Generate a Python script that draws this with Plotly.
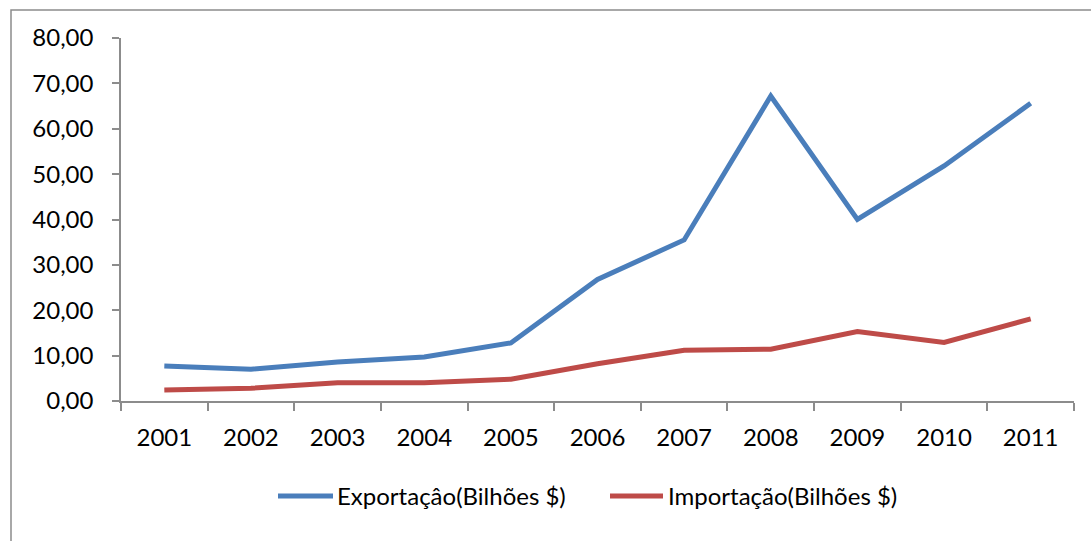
import plotly.graph_objects as go

anos = ["2001", "2002", "2003", "2004", "2005", "2006", "2007", "2008", "2009", "2010", "2011"]
exportacao = [7.7, 7.0, 8.6, 9.7, 12.8, 26.8, 35.5, 67.2, 40.0, 51.8, 65.6]
importacao = [2.4, 2.8, 4.0, 4.0, 4.8, 8.2, 11.2, 11.4, 15.3, 12.9, 18.1]

nomes = ["Exportaçâo(Bilhões $)", "Importação(Bilhões $)"]
cores = ["#4A7EBB", "#BE4B48"]

FONT = "Lato"
AXIS_GRAY = "#8c8c8c"

# plot area geometry in pixels (used to place the frame and legend in paper units)
L, T, W, H = 121, 38, 953, 363


def px_x(p):
    return (p - L) / W


def px_y(p):
    return (T + H - p) / H


fig = go.Figure()
for serie, nome, cor in zip([exportacao, importacao], nomes, cores):
    fig.add_trace(go.Scatter(
        x=anos, y=serie, mode="lines", name=nome,
        line=dict(color=cor, width=5), showlegend=False,
    ))

shapes = [dict(
    type="rect", xref="paper", yref="paper", layer="below",
    x0=px_x(11), x1=px_x(1110), y0=px_y(560), y1=px_y(10),
    line=dict(color=AXIS_GRAY, width=1.5), fillcolor="rgba(0,0,0,0)",
)]
annotations = []

# legend drawn below the axis: a line sample followed by the series name
legenda = [(278, 333, 337), (610, 663, 668)]
y_leg = 496
for (x0, x1, xt), nome, cor in zip(legenda, nomes, cores):
    shapes.append(dict(
        type="line", xref="paper", yref="paper",
        x0=px_x(x0), x1=px_x(x1), y0=px_y(y_leg), y1=px_y(y_leg),
        line=dict(color=cor, width=5),
    ))
    annotations.append(dict(
        xref="paper", yref="paper", x=px_x(xt), y=px_y(y_leg - 1),
        xanchor="left", yanchor="middle", showarrow=False, text=nome,
        font=dict(family=FONT, size=24, color="black"),
        xshift=-2,
    ))

fig.update_layout(
    width=1091, height=541,
    margin=dict(l=L, r=1091 - L - W, t=T, b=541 - T - H),
    paper_bgcolor="white", plot_bgcolor="white",
    font=dict(family=FONT, size=24, color="black"),
    separators=",.",
    showlegend=False,
    shapes=shapes,
    annotations=annotations,
)

fig.update_xaxes(
    type="category", range=[-0.5, 10.5], tickson="boundaries",
    ticks="outside", ticklen=8, tickcolor=AXIS_GRAY, tickwidth=1.5,
    showline=True, linecolor=AXIS_GRAY, linewidth=1.5,
    showgrid=False, zeroline=False, ticklabelstandoff=14,
)
fig.update_yaxes(
    range=[0, 80], dtick=10, tickformat=".2f", ticks="outside", ticklen=7,
    tickcolor=AXIS_GRAY, tickwidth=1.5, showline=True, linecolor=AXIS_GRAY,
    linewidth=1.5, showgrid=False, zeroline=False, ticklabelstandoff=14,
)

fig.write_html("out.html")
